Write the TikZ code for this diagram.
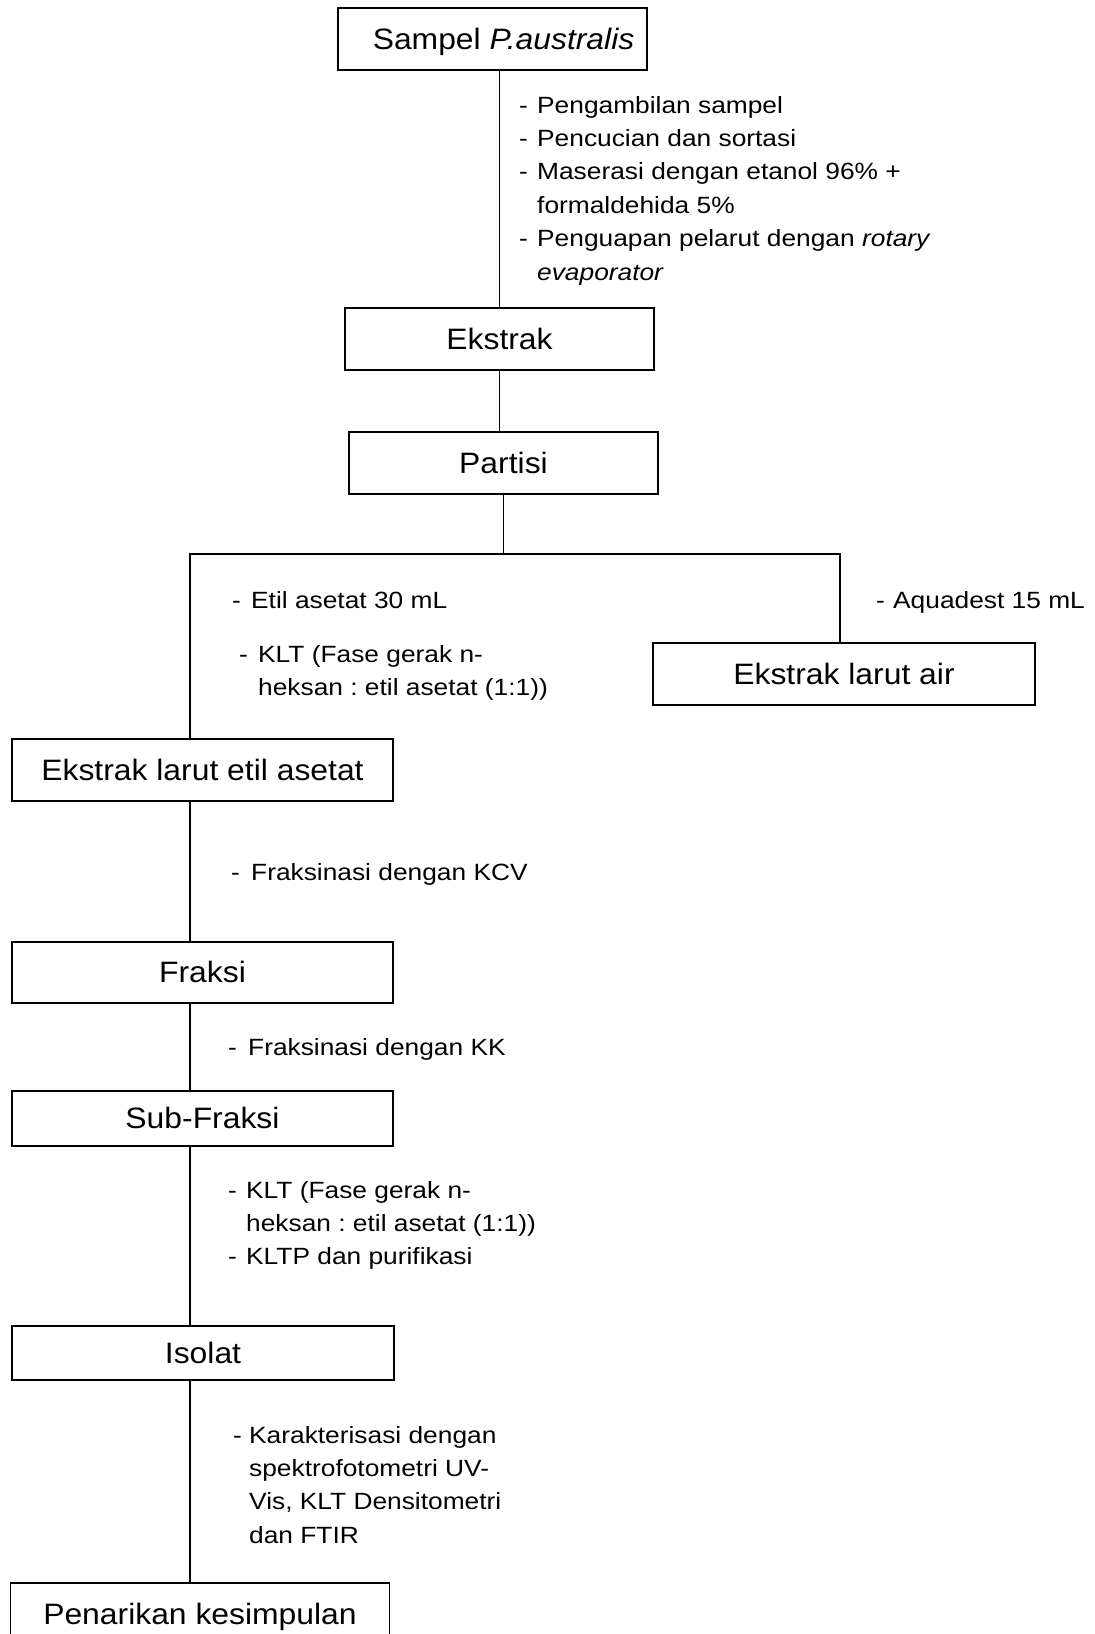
\documentclass[tikz,border=0pt]{standalone}
\usepackage{fontspec}
\setmainfont{Liberation Sans}
\newfontfamily\stretchfont[FakeStretch=1.12]{Liberation Sans}
\newfontfamily\boxfontfam[FakeStretch=1.08]{Liberation Sans}
\usetikzlibrary{calc}
\frenchspacing
\begin{document}
\begin{tikzpicture}[x=1pt,y=-1pt,
  box/.style={draw, line width=1.2pt, inner sep=0pt, text height=20.5pt, text depth=0pt,
    font=\boxfontfam\fontsize{29.5}{35}\selectfont},
  lbl/.style={anchor=base west, inner sep=0pt,
    font=\stretchfont\fontsize{23.5}{33.4}\selectfont},
  link/.style={line width=1.4pt}]
\useasboundingbox (0,0) rectangle (1095,1634);

% boxes
\node[box, minimum width=309pt, minimum height=62pt] (sampel) at (492.5,39) {\hspace*{22pt}Sampel \textit{P.australis}};
\node[box, minimum width=309pt, minimum height=62pt] (ekstrak) at (499.5,339) {Ekstrak};
\node[box, minimum width=309pt, minimum height=62pt] (partisi) at (503.5,463) {Partisi};
\node[box, minimum width=382pt, minimum height=62pt] (air) at (844,674) {Ekstrak larut air};
\node[box, minimum width=381pt, minimum height=62pt] (etil) at (202.5,770) {Ekstrak larut etil asetat};
\node[box, minimum width=381pt, minimum height=61pt] (fraksi) at (202.5,972.5) {Fraksi};
\node[box, minimum width=381pt, minimum height=55pt] (subfraksi) at (202.5,1118.5) {Sub-Fraksi};
\node[box, minimum width=382pt, minimum height=54pt] (isolat) at (203,1353) {Isolat};
\node[box, minimum width=379pt, minimum height=62pt] (penarikan) at (200,1614) {Penarikan kesimpulan};

% connectors
\coordinate (bl) at (190,554);
\coordinate (br) at (840,554);
\draw[link] (ekstrak.north |- sampel.south) -- (ekstrak.north);
\draw[link] (ekstrak.south) -- (ekstrak.south |- partisi.north);
\draw[link] (partisi.south) -- (partisi.south |- bl);
\draw[link] (bl |- etil.north) -- (bl) -- (br) -- (br |- air.north);
\draw[link] (bl |- etil.south) -- (bl |- fraksi.north);
\draw[link] (bl |- fraksi.south) -- (bl |- subfraksi.north);
\draw[link] (bl |- subfraksi.south) -- (bl |- isolat.north);
\draw[link] (bl |- isolat.south) -- (bl |- penarikan.north);

% labels
\node[lbl] (t1) at (519,113) {\begin{tabular}[t]{@{}p{18pt}@{}l@{}}
- & Pengambilan sampel\\
- & Pencucian dan sortasi\\
- & Maserasi dengan etanol 96\% +\\
  & formaldehida 5\%\\
- & Penguapan pelarut dengan \textit{rotary}\\
  & \textit{evaporator}\end{tabular}};
\node[lbl] (t2) at (232,608) {\begin{tabular}[t]{@{}p{19pt}@{}l@{}}
- & Etil asetat 30 mL\end{tabular}};
\node[lbl] (t3) at (239,662) {\begin{tabular}[t]{@{}p{19pt}@{}l@{}}
- & KLT (Fase gerak n-\\
  & heksan : etil asetat (1:1))\end{tabular}};
\node[lbl] (t4) at (876,608) {\begin{tabular}[t]{@{}p{17pt}@{}l@{}}
- & Aquadest 15 mL\end{tabular}};
\node[lbl] (t5) at (231,880) {\begin{tabular}[t]{@{}p{20pt}@{}l@{}}
- & Fraksinasi dengan KCV\end{tabular}};
\node[lbl] (t6) at (228,1055) {\begin{tabular}[t]{@{}p{20pt}@{}l@{}}
- & Fraksinasi dengan KK\end{tabular}};
\node[lbl] (t7) at (228,1198) {\begin{tabular}[t]{@{}p{18pt}@{}l@{}}
- & KLT (Fase gerak n-\\
  & heksan : etil asetat (1:1))\\
- & KLTP dan purifikasi\end{tabular}};
\node[lbl] (t8) at (233,1443) {\begin{tabular}[t]{@{}p{16pt}@{}l@{}}
- & Karakterisasi dengan\\
  & spektrofotometri UV-\\
  & Vis, KLT Densitometri\\
  & dan FTIR\end{tabular}};
\end{tikzpicture}
\end{document}
